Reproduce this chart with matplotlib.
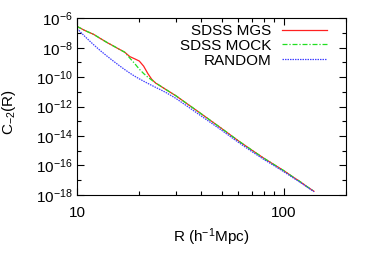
import numpy as np
import matplotlib
matplotlib.use("Agg")
import matplotlib.pyplot as plt

plt.rcParams['font.family'] = ['Liberation Sans', 'DejaVu Sans']
plt.rcParams['mathtext.default'] = 'regular'
plt.rcParams['font.size'] = 11

# R in h^-1 Mpc, values as log10(C_-2(R))
R = [10, 11, 12, 13, 14, 15, 16, 17, 18, 19, 20, 21, 22, 23, 24, 25, 27, 30,
     35, 40, 50, 60, 70, 80, 90, 100, 110, 120, 130, 140]
mgs_log = [-6.55, -6.85, -7.08, -7.38, -7.65, -7.88, -8.10, -8.30, -8.60, -8.75,
           -8.90, -9.25, -9.75, -10.15, -10.40, -10.55, -10.85, -11.25,
           -11.92, -12.50, -13.48, -14.30, -14.95, -15.50, -15.95, -16.35,
           -16.75, -17.10, -17.45, -17.75]
mock_log = [-6.55, -6.85, -7.08, -7.38, -7.65, -7.88, -8.10, -8.30, -8.70, -9.07,
            -9.45, -9.75, -10.00, -10.20, -10.38, -10.55, -10.85, -11.25,
            -11.92, -12.50, -13.48, -14.30, -14.95, -15.50, -15.95, -16.35,
            -16.75, -17.10, -17.45, -17.75]
rand_log = [-6.69, -7.28, -7.78, -8.21, -8.58, -8.91, -9.21, -9.48, -9.72, -9.93,
            -10.11, -10.27, -10.42, -10.56, -10.69, -10.81, -11.05, -11.43,
            -12.08, -12.65, -13.60, -14.40, -15.05, -15.58, -16.02, -16.42,
            -16.80, -17.14, -17.47, -17.78]
labels = ["SDSS MGS", "SDSS MOCK", "RANDOM"]

fig = plt.figure(figsize=(3.74, 2.62), dpi=100)
ax = fig.add_axes([0.206, 0.256, 0.719, 0.674])

ax.plot(R, 10.0 ** np.array(mgs_log), color='#ff2020', lw=0.9, label=labels[0])
ax.plot(R, 10.0 ** np.array(mock_log), color='#20e020', lw=0.9,
        dashes=(4, 1.5, 1, 1.5), label=labels[1])
ax.plot(R, 10.0 ** np.array(rand_log), color='#4040ff', lw=0.9,
        dashes=(1.2, 0.8), label=labels[2])

ax.set_xscale('log')
ax.set_yscale('log')
ax.set_xlim(10, 200)
ax.set_ylim(1e-18, 1e-6)

ax.set_yticks([10.0 ** e for e in range(-18, -5, 2)])
ax.set_yticks([10.0 ** e for e in range(-17, -6, 2)], minor=True)
ax.set_yticklabels(['$10^{%d}$' % e for e in range(-18, -5, 2)])
ax.set_yticklabels([], minor=True)
ax.set_xticks([10, 100])
ax.set_xticklabels(['10', '100'])
ax.set_xticks([20, 30, 40, 50, 60, 70, 80, 90, 200], minor=True)
ax.set_xticklabels([], minor=True)

ax.tick_params(which='both', direction='in', top=True, right=True, width=0.8)
ax.tick_params(which='major', length=5)
ax.tick_params(which='minor', length=3)
ax.tick_params(axis='x', which='major', pad=8)
ax.tick_params(axis='y', which='major', pad=3)
for s in ax.spines.values():
    s.set_linewidth(0.8)

ax.set_xlabel('R (h$^{-1}$Mpc)')
ax.set_ylabel('C$_{-2}$(R)')
ax.xaxis.set_label_coords(0.5, -0.18)
ax.yaxis.set_label_coords(-0.22, 0.47)

ax.legend(loc='upper right', bbox_to_anchor=(0.928, 0.968), frameon=False,
          markerfirst=False, handlelength=2.9, handletextpad=0.7,
          labelspacing=0.05, borderaxespad=0, borderpad=0)

fig.savefig('out.png', dpi=100)
